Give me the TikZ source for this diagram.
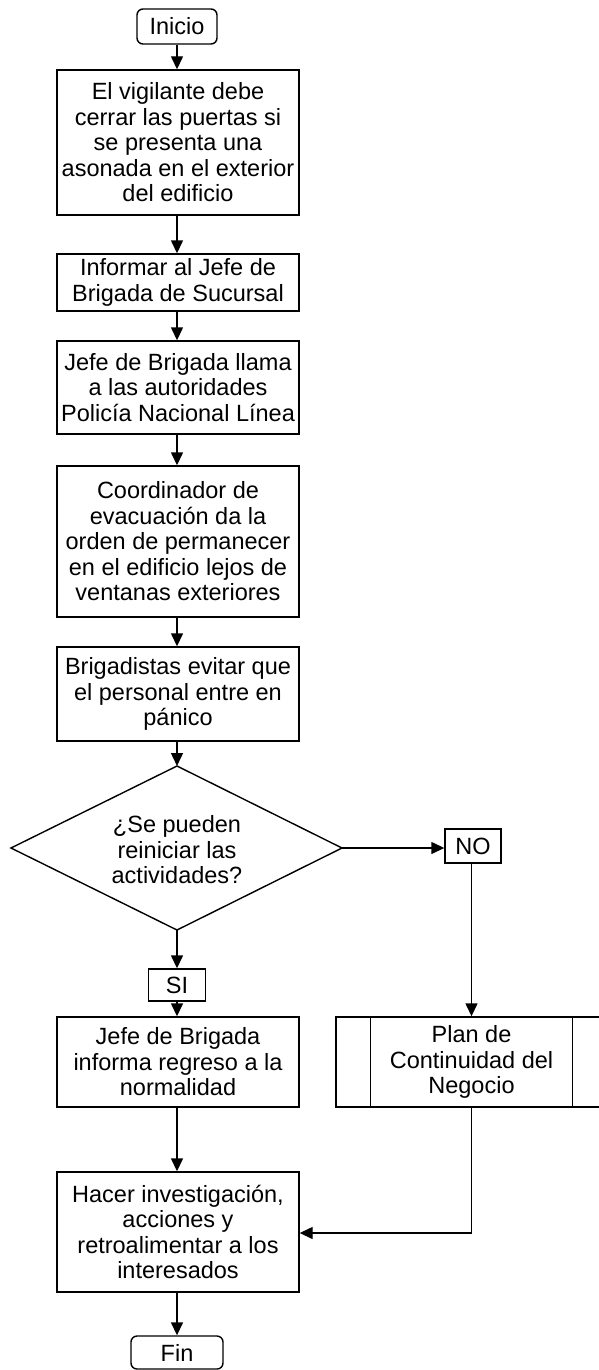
\documentclass[tikz,border=0pt]{standalone}
\usepackage{fontspec}
\setmainfont{Liberation Sans}
\usetikzlibrary{shapes.geometric,arrows.meta}
\begin{document}
\begin{tikzpicture}[x=1pt,y=-1pt,
  every node/.style={font=\fontsize{23.5}{25.5}\selectfont, align=center, inner sep=0pt, line width=1.4pt},
  proc/.style={draw, rectangle, minimum width=242pt},
  term/.style={draw, rectangle, rounded corners=6pt},
  lab/.style={draw, rectangle},
  arr/.style={line width=1.4pt, -{Triangle[length=13pt,width=12pt]}}
]
\useasboundingbox (0,0) rectangle (598,1370);
\node[term, minimum width=80pt, minimum height=35pt] (ini) at (177,26.5) {Inicio};
\node[proc, minimum height=145pt] (b1) at (178,142.5) {El vigilante debe\\cerrar las puertas si\\se presenta una\\asonada en el exterior\\del edificio};
\node[proc, minimum height=57pt] (b2) at (178,282.5) {Informar al Jefe de\\Brigada de Sucursal};
\node[proc, minimum height=93pt] (b3) at (178,387.5) {Jefe de Brigada llama\\a las autoridades\\Policía Nacional Línea};
\node[proc, minimum height=151pt] (b4) at (178,541.5) {Coordinador de\\evacuación da la\\orden de permanecer\\en el edificio lejos de\\ventanas exteriores};
\node[proc, minimum height=94pt] (b5) at (178,694) {Brigadistas evitar que\\el personal entre en\\pánico};
\coordinate (dR) at (342,848);
\coordinate (dB) at (177,930);
\coordinate (dT) at (177,766);
\coordinate (dL) at (11,848);
\draw[line width=1.4pt] (dL) -- (dT) -- (dR) -- (dB) -- cycle;
\node (d) at (177,850) {¿Se pueden\\reiniciar las\\actividades?};
\node[lab, minimum width=56pt, minimum height=34pt] (no) at (473,846) {NO};
\node[lab, minimum width=57pt, minimum height=32pt] (si) at (177,985) {SI};
\node[proc, minimum height=90pt] (j) at (178,1062) {Jefe de Brigada\\informa regreso a la\\normalidad};
\node[draw, rectangle, minimum width=271pt, minimum height=90pt] (p) at (471.5,1062) {Plan de\\Continuidad del\\Negocio};
\draw[line width=1.4pt] ([xshift=35pt]p.north west) -- ([xshift=35pt]p.south west);
\draw[line width=1.4pt] ([xshift=-35pt]p.north east) -- ([xshift=-35pt]p.south east);
\node[proc, minimum height=120pt] (h) at (178,1232) {Hacer investigación,\\acciones y\\retroalimentar a los\\interesados};
\node[term, minimum width=92pt, minimum height=33pt] (fin) at (177,1352.5) {Fin};
\coordinate (pc) at (471.5,1233);
\draw[arr] (ini.south) -- (ini.south |- b1.north);
\draw[arr] (b1.south -| ini.south) -- (ini.south |- b2.north);
\draw[arr] (b2.south -| ini.south) -- (ini.south |- b3.north);
\draw[arr] (b3.south -| ini.south) -- (ini.south |- b4.north);
\draw[arr] (b4.south -| ini.south) -- (ini.south |- b5.north);
\draw[arr] (b5.south -| ini.south) -- (dT);
\draw[arr] (dR) -- (no.west |- dR);
\draw[arr] (no.south -| p.north) -- (p.north);
\draw[arr] (dB) -- (si.north);
\draw[arr] (si.south) -- (si.south |- j.north);
\draw[arr] (j.south -| si.south) -- (si.south |- h.north);
\draw[arr] (p.south) -- (pc) -- (h.east |- pc);
\draw[arr] (h.south -| fin.north) -- (fin.north);
\end{tikzpicture}
\end{document}
